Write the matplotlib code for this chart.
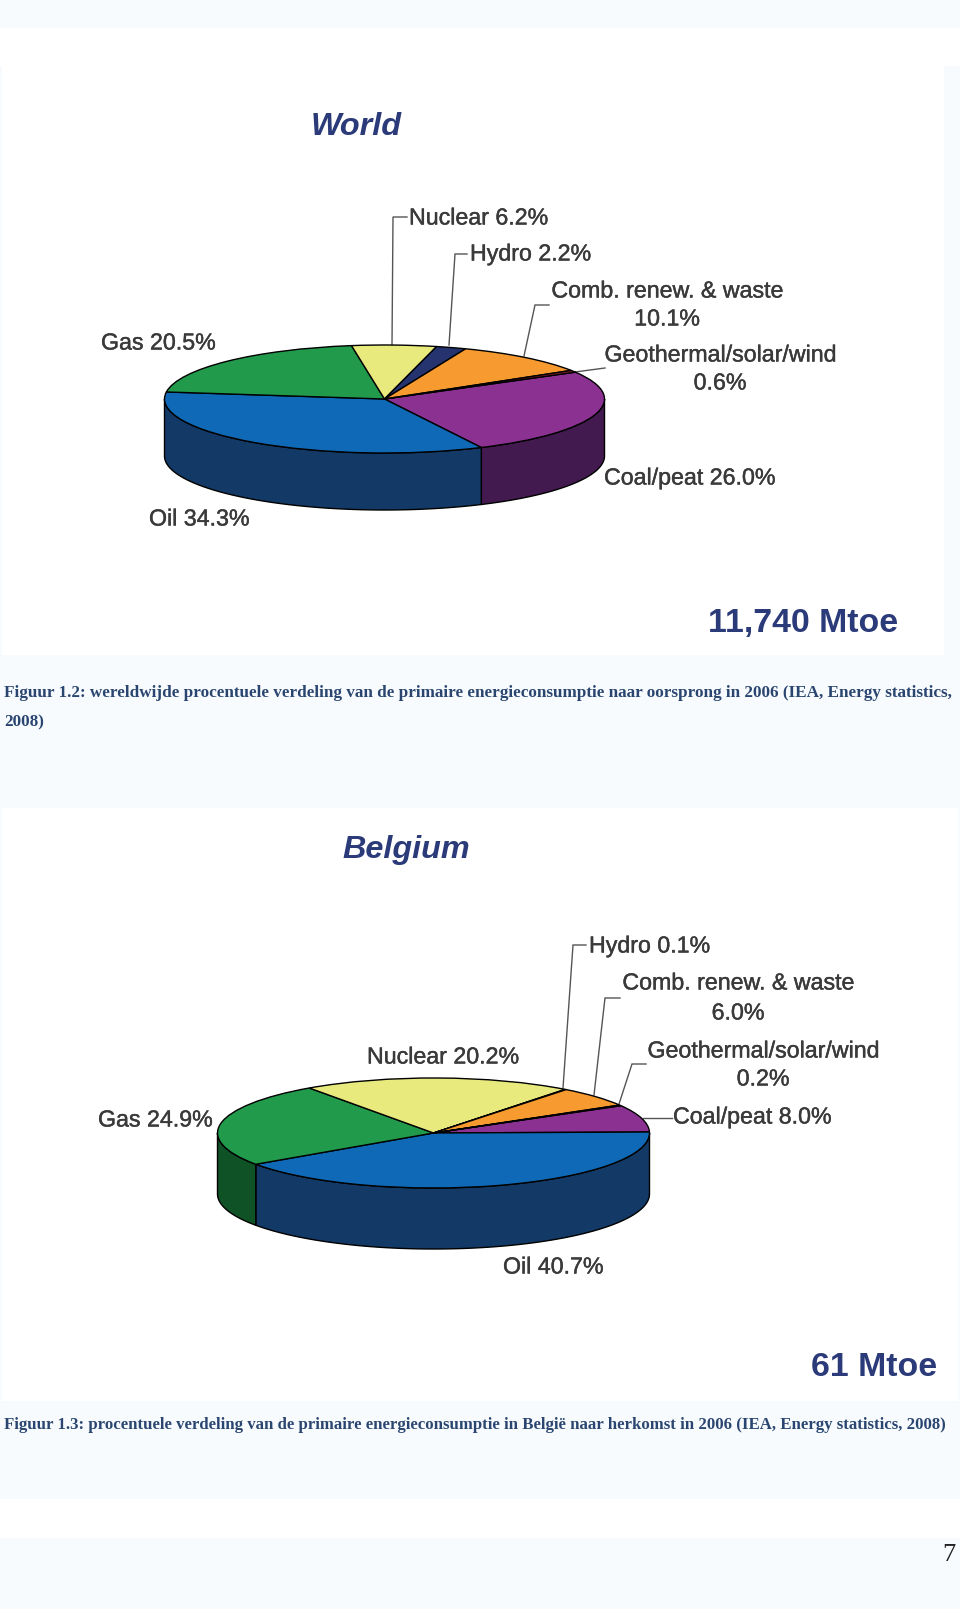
# -*- coding: utf-8 -*-
import numpy as np
import matplotlib
matplotlib.use("Agg")
import matplotlib.pyplot as plt
import matplotlib.patheffects as pe
from matplotlib.patches import Rectangle

W, H = 960, 1609

# data
world_labels = ["Coal/peat", "Oil", "Gas", "Nuclear", "Hydro", "Comb. renew. & waste", "Geothermal/solar/wind"]
world_values = [26.0, 34.3, 20.5, 6.2, 2.2, 10.1, 0.6]
belgium_labels = ["Coal/peat", "Oil", "Gas", "Nuclear", "Hydro", "Comb. renew. & waste", "Geothermal/solar/wind"]
belgium_values = [8.0, 40.7, 24.9, 20.2, 0.1, 6.0, 0.2]

top_colors = ["#8A3192", "#1069B6", "#229A4B", "#E9EA7D", "#25346F", "#F79A2F", "#8B1E2C"]
side_colors = ["#431A4F", "#133A66", "#0E5226", "#8F9048", "#141C40", "#A5661C", "#5A1019"]

PAGE = "#F8FBFE"
TEXT = "#3A3A3A"
NAVY = "#2B3A78"
CAPTION = "#2A4670"

fig = plt.figure(figsize=(W / 100, H / 100), dpi=100, facecolor=PAGE)
bg = fig.add_axes([0, 0, 1, 1])
bg.set_xlim(0, W)
bg.set_ylim(H, 0)
bg.axis("off")

# white bands of the scanned page
for x0, y0, x1, y1 in [(0, 28, 960, 66), (2, 66, 944, 655), (2, 808, 958, 1401), (0, 1499, 960, 1538)]:
    bg.add_patch(Rectangle((x0, y0), x1 - x0, y1 - y0, fc="white", ec="none", zorder=0))


def pie3d(values, start, cx, cy, rx, ry, depth):
    ax = fig.add_axes([(cx - rx) / W, 1 - (cy + ry) / H, 2 * rx / W, 2 * ry / H])
    ax.pie(values, colors=top_colors, startangle=start, counterclock=False, radius=1,
           wedgeprops=dict(edgecolor="black", linewidth=1.0), normalize=True)
    ax.set_aspect("auto")
    ax.set_xlim(-1, 1)
    ax.set_ylim(-1, 1)
    ax.patch.set_alpha(0)
    for p in ax.patches:
        p.set_zorder(3)

    # side wall, only the lower half of the ellipse shows
    d = depth / ry
    fr = np.array(values) / np.sum(values) * 360
    ang = start
    for v, c in zip(fr, side_colors):
        a0 = ang - v
        ang -= v
        lo = ((a0 + 180) % 360) - 180
        hi = lo + v
        # walk round the wedge and keep the parts below the centre line
        for shift in (0, -360, 360):
            l, h = max(lo + shift, -180), min(hi + shift, 0)
            if h > l:
                t = np.radians(np.linspace(l, h, 80))
                xs = np.r_[np.cos(t), np.cos(t)[::-1]]
                ys = np.r_[np.sin(t), np.sin(t)[::-1] - d]
                ax.fill(xs, ys, fc=c, ec="black", lw=1.0, clip_on=False, zorder=1)
    return ax


pie3d(world_values, 29.8, 384.5, 399, 220, 54, 57)
pie3d(belgium_values, 29.8, 433.5, 1133, 216, 55, 61)


def label(x, y, s, ha="left"):
    bg.text(x, y, s, ha=ha, va="center", fontsize=16.7, color=TEXT, family="Liberation Sans",
            path_effects=[pe.withStroke(linewidth=0.3, foreground=TEXT)])


def leader(xs, ys, c="#555555"):
    bg.plot(xs, ys, color=c, lw=1.0, zorder=1, solid_joinstyle="miter")


def heading(x, y, s, size, style="normal"):
    bg.text(x, y, s, ha="center", va="center", fontsize=size, fontweight="bold", style=style,
            color=NAVY, family="Liberation Sans")


# World labels
heading(356, 127, "World", 23.3, "italic")
label(409, 218, "Nuclear 6.2%")
label(470, 254, "Hydro 2.2%")
label(667, 291, "Comb. renew. & waste", "center")
label(667, 319, "10.1%", "center")
label(720, 355, "Geothermal/solar/wind", "center")
label(720, 383, "0.6%", "center")
label(604, 478, "Coal/peat 26.0%")
label(149, 519, "Oil 34.3%")
label(101, 343, "Gas 20.5%")
leader([392, 393, 407], [345, 217, 217])
leader([449, 455, 467], [345, 254, 254])
leader([524, 535, 549], [356, 305, 305])
leader([575, 605], [372, 368])
heading(803, 623, "11,740 Mtoe", 24.4)

# Belgium labels
heading(406, 850, "Belgium", 23.3, "italic")
label(589, 946, "Hydro 0.1%")
label(738, 983, "Comb. renew. & waste", "center")
label(738, 1013, "6.0%", "center")
label(763, 1051, "Geothermal/solar/wind", "center")
label(763, 1079, "0.2%", "center")
label(673, 1117, "Coal/peat 8.0%")
label(367, 1057, "Nuclear 20.2%")
label(98, 1120, "Gas 24.9%")
label(503, 1267, "Oil 40.7%")
leader([563, 573, 586], [1088, 945, 945])
leader([594, 605, 620], [1095, 998, 998])
leader([619, 632, 646], [1104, 1064, 1064])
leader([643, 672], [1118, 1118])
heading(874, 1368, "61 Mtoe", 24.4)


def caption(x, y, s, size):
    bg.text(x, y, s, ha="left", va="center", fontsize=size, fontweight="bold", color=CAPTION,
            family="Liberation Serif")


caption(4, 693, "Figuur 1.2: wereldwijde procentuele verdeling van de primaire energieconsumptie naar oorsprong in 2006 (IEA, Energy statistics,", 12.35)
caption(4, 722, "2008)", 12.35)
caption(4, 1425, "Figuur 1.3: procentuele verdeling van de primaire energieconsumptie in België naar herkomst in 2006 (IEA, Energy statistics, 2008)", 12.05)
bg.text(949, 1555, "7", ha="center", va="center", fontsize=19, color="#222222", family="Liberation Serif")

fig.savefig("out.png", dpi=100, facecolor=fig.get_facecolor())
plt.close()
